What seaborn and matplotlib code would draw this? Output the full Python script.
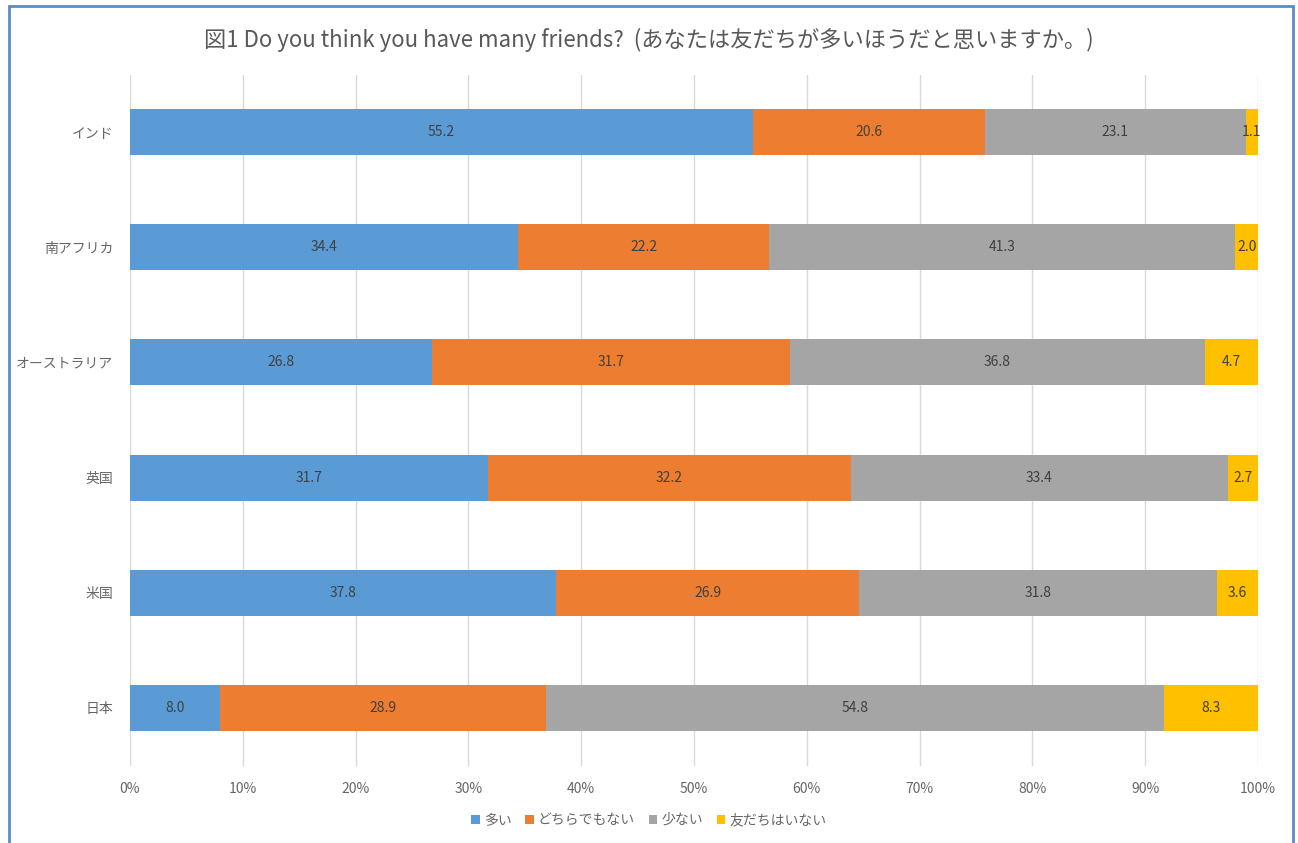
import numpy as np
import pandas as pd
import matplotlib
matplotlib.use("Agg")
import matplotlib.pyplot as plt
import seaborn as sns
from matplotlib.patches import Rectangle
from matplotlib.ticker import FuncFormatter

countries = ["インド", "南アフリカ", "オーストラリア", "英国", "米国", "日本"]
series_names = ["多い", "どちらでもない", "少ない", "友だちはいない"]
many = [55.2, 34.4, 26.8, 31.7, 37.8, 8.0]
neutral = [20.6, 22.2, 31.7, 32.2, 26.9, 28.9]
few = [23.1, 41.3, 36.8, 33.4, 31.8, 54.8]
none_ = [1.1, 2.0, 4.7, 2.7, 3.6, 8.3]
colors = ["#5B9BD5", "#ED7D31", "#A5A5A5", "#FFC000"]
title = "図1 Do you think you have many friends?  (あなたは友だちが多いほうだと思いますか。)"

sns.set_theme(style="white")
plt.rcParams['font.family'] = ['Noto Sans CJK JP', 'DejaVu Sans']

vals = np.array([many, neutral, few, none_], dtype=float)
totals = vals.sum(axis=0)
pct = vals / totals * 100
cum = np.cumsum(pct, axis=0)

fig = plt.figure(figsize=(12.98, 8.43), dpi=100)
ax = fig.add_axes([130/1298, 1-765.5/843, (1258-130)/1298, (765.5-74.5)/843])

# draw from largest cumulative to smallest so the stack shows
for i in range(3, -1, -1):
    df = pd.DataFrame({"country": countries, "value": cum[i]})
    sns.barplot(data=df, y="country", x="value", color=colors[i], width=0.4,
                ax=ax, saturation=1, edgecolor="none", label=series_names[i], zorder=2)

# labels
for i in range(4):
    starts = cum[i] - pct[i]
    for j in range(len(countries)):
        ax.text(starts[j] + pct[i][j] / 2, j, f"{vals[i][j]:.1f}", ha="center", va="center",
                fontsize=10, color="#404040", zorder=5)

ax.set_xlim(0, 100)
ax.set_xticks(np.arange(0, 101, 10))
ax.xaxis.set_major_formatter(FuncFormatter(lambda v, p: f"{int(v)}%"))
ax.grid(axis="x", color="#D9D9D9", linewidth=1, zorder=0)
ax.set_axisbelow(True)
for s in ax.spines.values():
    s.set_visible(False)
ax.set_xlabel("")
ax.set_ylabel("")
ax.tick_params(axis="x", colors="#666666", labelsize=10, length=0, pad=12)
ax.tick_params(axis="y", colors="#666666", labelsize=10, length=0, pad=12)
ax.set_ylim(5.5, -0.5)

handles, labels = ax.get_legend_handles_labels()
if ax.get_legend() is not None:
    ax.get_legend().remove()
order = [labels.index(n) for n in series_names]
leg = fig.legend([handles[k] for k in order], [labels[k] for k in order],
                 loc="center", bbox_to_anchor=(0.5, 1-820/843), ncol=4, frameon=False,
                 fontsize=10, handlelength=0.6, handleheight=0.6, handletextpad=0.3,
                 columnspacing=1.0)
for t in leg.get_texts():
    t.set_color("#666666")

fig.text(0.5, 1-40/843, title, ha="center", va="center", fontsize=16, color="#595959")

fig.patches.append(Rectangle((9/1298, -0.02), (1293-9)/1298, 1-6/843+0.02,
                             transform=fig.transFigure, fill=False,
                             edgecolor="#5B8BC9", linewidth=2))

fig.savefig("out.png", dpi=100)
